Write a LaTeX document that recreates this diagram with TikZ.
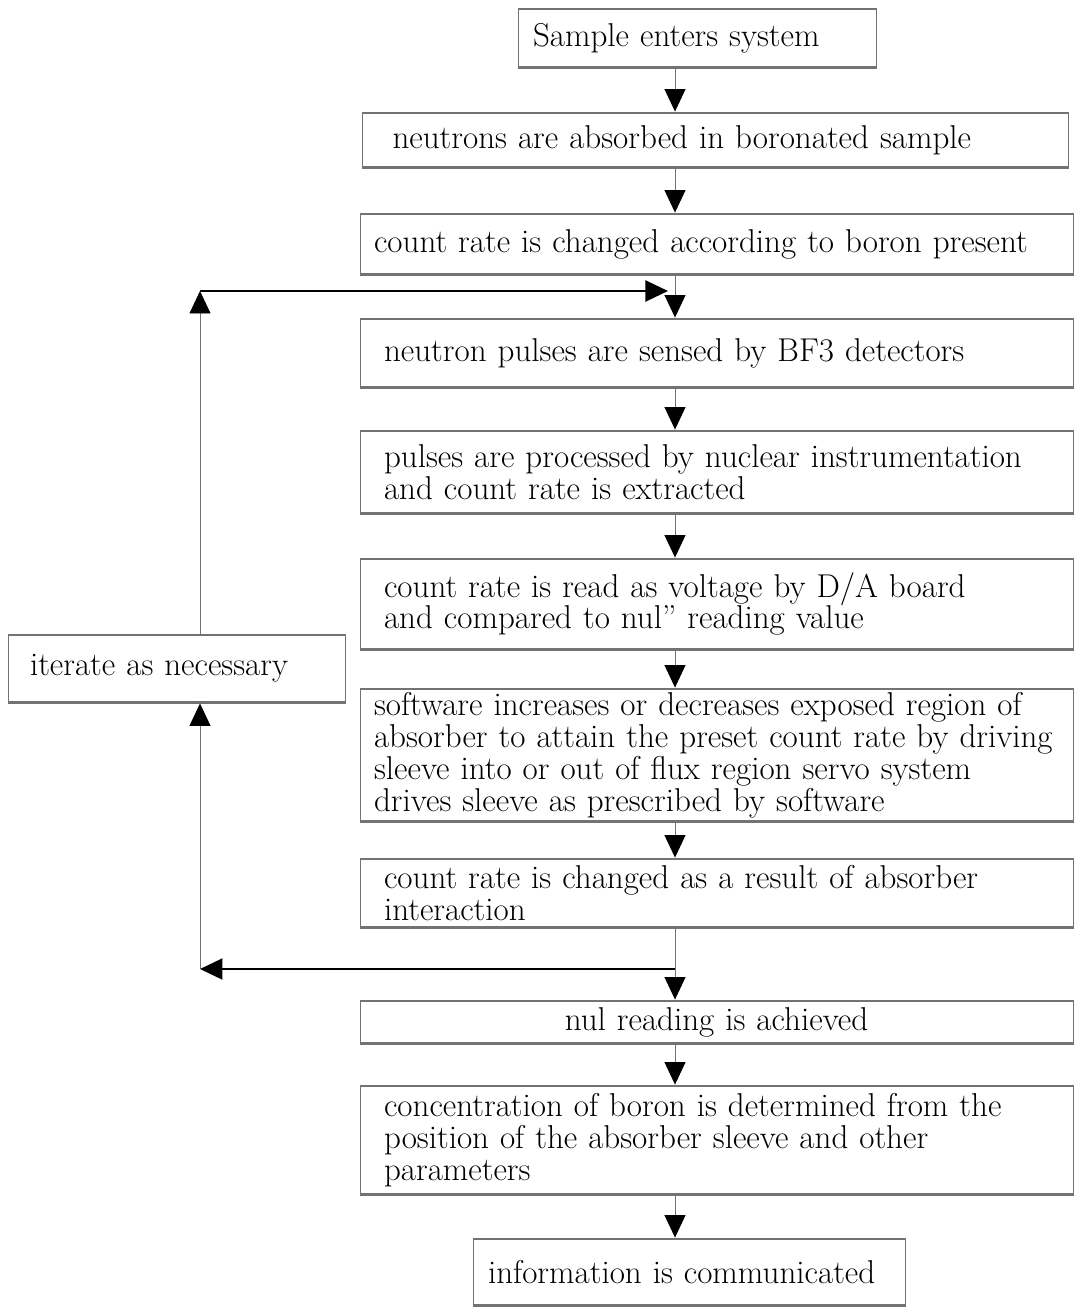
\documentclass[tikz,border=0pt]{standalone}
\usetikzlibrary{arrows.meta}
\newcommand\flowfont{\fontsize{18.8}{18.2}\selectfont}

\begin{document}
\begin{tikzpicture}[x=0.02cm,y=-0.02cm,
    stage/.style={draw=black!55, line width=0.5pt, align=left, inner ysep=2pt, font=\flowfont,
      path picture={\draw[line width=2.4pt] (path picture bounding box.north west) -- (path picture bounding box.north east)
        (path picture bounding box.south west) -- (path picture bounding box.south east);}},
    wide/.style={stage, minimum width=14.26cm, text width=13.3cm, inner xsep=0.48cm},
    tight/.style={stage, minimum width=14.26cm, text width=13.7cm, inner xsep=0.28cm},
    fwd/.style={draw=black!55, line width=0.5pt, -{Triangle[length=0.45cm,width=0.42cm,color=black]}},
    back/.style={line width=1.2pt, -{Triangle[length=0.45cm,width=0.42cm]}}]
        \useasboundingbox (0,0) rectangle (1080,1308);
        \coordinate (spine) at (675,0);
        \coordinate (upper) at (200,291);
        \coordinate (lower) at (200,969);
        % main column
        \node[stage, minimum width=7.16cm, text width=6.56cm, inner xsep=0.3cm, minimum height=1.2cm] (b1) at (697,38) {Sample enters system};
        \node[wide, minimum width=14.12cm, text width=12.9cm, inner xsep=0.6cm, minimum height=1.12cm] (b2) at (715,140) {neutrons are absorbed in boronated sample};
        \node[tight, minimum height=1.24cm] (b3) at (716.5,244) {count rate is changed according to boron present};
        \node[wide, minimum height=1.4cm] (b4) at (716.5,353) {neutron pulses are sensed by BF3 detectors};
        \node[wide, minimum height=1.68cm] (b5) at (716.5,472) {pulses are processed by nuclear instrumentation\\and count rate is extracted};
        \node[wide, minimum height=1.84cm] (b6) at (716.5,604) {count rate is read as voltage by D/A board\\and compared to nul'' reading value};
        \node[tight, minimum height=2.68cm] (b7) at (716.5,755) {software increases or decreases exposed region of\\absorber to attain the preset count rate by driving\\sleeve into or out of flux region servo system\\drives sleeve as prescribed by software};
        \node[wide, minimum height=1.4cm] (b8) at (716.5,893) {count rate is changed as a result of absorber\\interaction};
        \node[wide, align=center, minimum height=0.88cm] (b9) at (716.5,1022) {nul reading is achieved};
        \node[wide, minimum height=2.2cm] (b10) at (716.5,1140) {concentration of boron is determined from the\\position of the absorber sleeve and other\\parameters};
        \node[stage, minimum width=8.64cm, text width=8.04cm, inner xsep=0.3cm, minimum height=1.36cm] (b11) at (689,1272) {information is communicated};
        % side box
        \node[stage, minimum width=6.74cm, text width=5.86cm, inner xsep=0.44cm, minimum height=1.38cm] (it) at (176.5,668.5) {iterate as necessary};
        % arrows down the column
        \draw[fwd] (b1.south -| spine) -- (b2.north -| spine);
        \draw[fwd] (b2.south -| spine) -- (b3.north -| spine);
        \draw[fwd] (b3.south -| spine) -- (b4.north -| spine);
        \draw[fwd] (b4.south -| spine) -- (b5.north -| spine);
        \draw[fwd] (b5.south -| spine) -- (b6.north -| spine);
        \draw[fwd] (b6.south -| spine) -- (b7.north -| spine);
        \draw[fwd] (b7.south -| spine) -- (b8.north -| spine);
        \draw[fwd] (b8.south -| spine) -- (b9.north -| spine);
        \draw[fwd] (b9.south -| spine) -- (b10.north -| spine);
        \draw[fwd] (b10.south -| spine) -- (b11.north -| spine);
        % feedback loop
        \draw[fwd] (it.north -| upper) -- (upper);
        \draw[back, shorten >=4pt] (upper) -- (upper -| spine);
        \draw[back] (lower -| spine) -- (lower);
        \draw[fwd] (lower) -- (it.south -| lower);
\end{tikzpicture}
\end{document}
